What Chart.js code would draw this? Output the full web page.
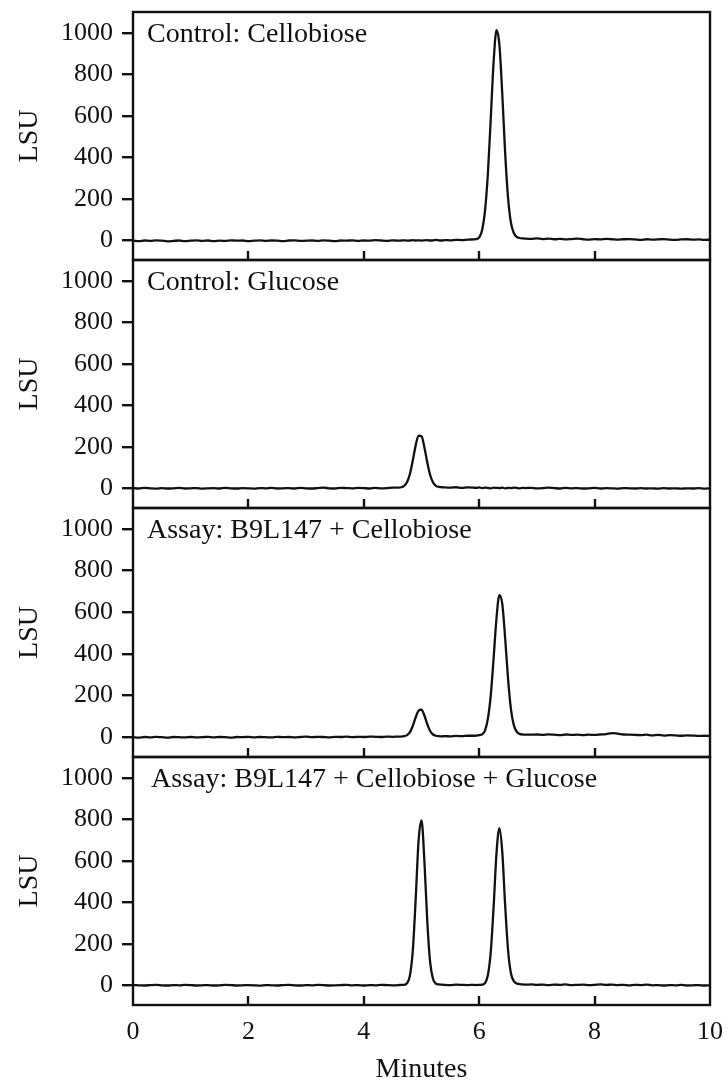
<!DOCTYPE html>
<html>
<head>
<meta charset="utf-8">
<script src="https://cdn.jsdelivr.net/npm/chart.js@4.4.1/dist/chart.umd.min.js"></script>
<style>
  html, body { margin: 0; padding: 0; background: #fff; }
  #wrap { position: relative; width: 728px; height: 1086px; }
  #wrap canvas { position: absolute; left: 0; }
</style>
</head>
<body>
<div id="wrap"></div>
<script>
// retention time grid (minutes), finer around the peaks
const minutes = [
  0.0, 0.1, 0.2, 0.3, 0.4, 0.5, 0.6, 0.7, 0.8, 0.9,
  1.0, 1.1, 1.2, 1.3, 1.4, 1.5, 1.6, 1.7, 1.8, 1.9,
  2.0, 2.1, 2.2, 2.3, 2.4, 2.5, 2.6, 2.7, 2.8, 2.9,
  3.0, 3.1, 3.2, 3.3, 3.4, 3.5, 3.6, 3.7, 3.8, 3.9,
  4.0, 4.1, 4.2, 4.3, 4.4, 4.5,
  4.6, 4.65, 4.7, 4.75, 4.8, 4.85, 4.9, 4.95, 5.0, 5.05, 5.1, 5.15, 5.2, 5.25, 5.3, 5.35, 5.4,
  5.5, 5.6, 5.7, 5.8,
  5.9, 5.95, 6.0, 6.05, 6.1, 6.15, 6.2, 6.25, 6.3, 6.35, 6.4, 6.45, 6.5, 6.55, 6.6, 6.65, 6.7, 6.75, 6.8,
  6.9, 7.0, 7.1, 7.2, 7.3, 7.4, 7.5, 7.6, 7.7, 7.8, 7.9, 8.0, 8.1, 8.2, 8.3, 8.4,
  8.5, 8.6, 8.7, 8.8, 8.9, 9.0, 9.1, 9.2, 9.3, 9.4, 9.5, 9.6, 9.7, 9.8, 9.9, 10.0
];

// LSU signal per panel
const controlCellobiose = [
  -2, -4, -1, -3, 0, -2, -5, -3, -1, -4,
  -2, 0, -3, -1, -4, -2, -3, 0, -2, -1,
  -4, -2, 0, -3, -1, -2, -4, -1, 0, -3,
  -2, -1, -3, 0, -2, -4, -1, -2, 0, -3,
  -1, -2, 1, -1, -3, 0,
  -2, -1, 0, -2, -1, 1, -1, 0, -2, 0, 1, -1, 0, 2, 0, -1, 1,
  0, 2, 1, 3,
  4, 5, 14, 48, 140, 318, 585, 860, 1012, 942, 705, 420, 205, 85, 35, 16, 11, 9, 8,
  7, 9, 6, 8, 5, 7, 4, 6, 8, 5, 3, 6, 4, 7, 5, 3,
  5, 6, 4, 2, 5, 3, 4, 6, 3, 2, 4, 5, 3, 4, 2, 3
];
const controlGlucose = [
  1, -1, 2, 0, -2, 1, -1, 0, 2, -1,
  0, 1, -2, 0, 1, -1, 2, 0, -1, 1,
  0, -2, 1, 0, 2, -1, 0, 1, -1, 2,
  0, -1, 1, 3, 0, -1, 2, 1, 0, 2,
  1, -1, 2, 0, 1, 3,
  3, 5, 12, 30, 70, 135, 208, 254, 251, 198, 125, 64, 28, 12, 7, 5, 4,
  3, 5, 2, 4,
  3, 2, 4, 1, 3, 2, 0, 3, 2, 1, 3, 0, 2, 1, 3, 2, 0, 2, 1,
  2, 0, 1, 3, 1, -1, 2, 0, 1, -1, 0, 2, -1, 1, 0, -2,
  1, 0, -1, 1, -1, 0, -2, 1, -1, 0, -2, 0, -1, 1, -2, 0
];
const assayCellobiose = [
  0, -2, 1, -1, 2, 0, -2, 1, 0, -1,
  1, -1, 0, 2, -1, 1, 0, -2, 1, 0,
  2, -1, 1, 0, -1, 2, 0, 1, -1, 1,
  3, 0, 2, 1, -1, 2, 1, 3, 0, 2,
  1, 3, 2, 1, 3, 2,
  3, 3, 5, 10, 24, 55, 96, 128, 132, 104, 63, 30, 13, 7, 5, 4, 5,
  4, 6, 5, 7,
  7, 8, 10, 14, 32, 88, 200, 380, 572, 682, 640, 475, 280, 135, 58, 27, 16, 13, 12,
  12, 13, 11, 14, 12, 10, 13, 11, 12, 10, 12, 11, 13, 15, 20, 17,
  13, 12, 11, 10, 12, 9, 11, 8, 10, 9, 7, 9, 8, 6, 7, 6
];
const assayCellobioseGlucose = [
  1, 0, -1, 1, 2, 0, -1, 1, 0, 2,
  1, -1, 0, 1, -1, 0, 2, 1, -1, 0,
  1, 0, -2, 1, 0, -1, 1, 2, 0, -1,
  1, 0, 2, 1, -1, 0, 1, 2, 0, 1,
  -1, 1, 0, 2, 1, 0,
  1, 2, 2, 10, 48, 170, 420, 700, 795, 600, 310, 110, 30, 8, 4, 3, 2,
  1, 3, 2, 1,
  2, 1, 2, 3, 10, 48, 160, 379, 637, 757, 642, 385, 170, 58, 20, 9, 6, 4, 3,
  4, 2, 3, 1, 3, 2, 4, 1, 2, 3, 1, 2, 4, 2, 3, 1,
  2, 0, 2, 1, 3, 0, 1, -1, 1, 0, 2, -1, 0, 1, -1, 0
];

const panelLabels = [
  'Control: Cellobiose',
  'Control: Glucose',
  'Assay: B9L147 + Cellobiose',
  'Assay: B9L147 + Cellobiose + Glucose'
];
const yTickValues = [0, 200, 400, 600, 800, 1000];
const xTickValues = [0, 2, 4, 6, 8, 10];
const innerXTicks = [2, 4, 6, 8];

const series = [controlCellobiose, controlGlucose, assayCellobiose, assayCellobioseGlucose];

// panel borders on the page (y, px)
const edges = [12, 260, 508, 757, 1005];
const serif = "'Liberation Serif', 'Times New Roman', serif";
const ink = '#111';

// box around each panel, inward ticks at the bottom, panel caption
const framePlugin = {
  id: 'frame',
  afterDraw(chart, args, opts) {
    const { ctx, chartArea: a, scales } = chart;
    ctx.save();
    ctx.strokeStyle = ink;
    ctx.lineWidth = 2.4;
    ctx.strokeRect(a.left, a.top, a.right - a.left, a.bottom - a.top);
    innerXTicks.forEach(v => {
      const x = Math.round(scales.x.getPixelForValue(v));
      ctx.beginPath();
      ctx.moveTo(x, a.bottom);
      ctx.lineTo(x, a.bottom - 9);
      ctx.stroke();
    });
    ctx.fillStyle = ink;
    ctx.font = '28px ' + serif;
    ctx.textBaseline = 'alphabetic';
    ctx.fillText(opts.text, a.left + opts.dx, a.top + 30);
    ctx.restore();
  }
};

const wrap = document.getElementById('wrap');

series.forEach((vals, i) => {
  if (vals.length !== minutes.length) console.warn('length mismatch', i, vals.length);
  const last = i === series.length - 1;
  const top = i === 0 ? 0 : edges[i] - 6;
  const bottom = last ? 1086 : edges[i + 1] + 6;

  const canvas = document.createElement('canvas');
  canvas.width = 728;
  canvas.height = bottom - top;
  canvas.style.top = top + 'px';
  wrap.appendChild(canvas);

  new Chart(canvas, {
    type: 'line',
    data: {
      datasets: [{
        data: minutes.map((m, k) => ({ x: m, y: vals[k] })),
        borderColor: ink,
        borderWidth: 2.3,
        pointRadius: 0,
        cubicInterpolationMode: 'monotone',
        fill: false
      }]
    },
    options: {
      responsive: false,
      animation: false,
      layout: { padding: { top: edges[i] - top, bottom: last ? 0 : 6, left: 0, right: 18 } },
      plugins: {
        legend: { display: false },
        tooltip: { enabled: false },
        frame: { text: panelLabels[i], dx: last ? 18 : 14 }
      },
      scales: {
        x: {
          type: 'linear',
          min: 0,
          max: 10,
          display: last,
          afterBuildTicks: s => { s.ticks = xTickValues.map(v => ({ value: v })); },
          afterFit: s => {
            if (!last) return;
            s.height = 1086 - edges[4];
            s.paddingLeft = 0;
            s.paddingRight = 0;
          },
          grid: { display: false, drawTicks: false },
          border: { display: false },
          ticks: {
            color: ink, font: { family: serif, size: 26 }, padding: 12,
            maxRotation: 0, autoSkip: false, callback: v => String(v)
          },
          title: {
            display: true, text: 'Minutes', color: ink,
            font: { family: serif, size: 28 }, padding: { top: 0, bottom: 0 }
          }
        },
        y: {
          min: -95,
          max: 1100,
          afterBuildTicks: s => { s.ticks = yTickValues.map(v => ({ value: v })); },
          afterFit: s => { s.width = 133; s.paddingTop = 0; s.paddingBottom = 0; },
          grid: { drawOnChartArea: false, drawTicks: true, tickLength: 11, color: ink, lineWidth: 2.4 },
          border: { display: false },
          ticks: {
            color: ink, font: { family: serif, size: 26 }, padding: 9,
            autoSkip: false, callback: v => String(v)
          },
          title: {
            display: true, text: 'LSU', color: ink,
            font: { family: serif, size: 28 }, padding: { top: 13, bottom: 0 }
          }
        }
      }
    },
    plugins: [framePlugin]
  });
});
</script>
</body>
</html>
